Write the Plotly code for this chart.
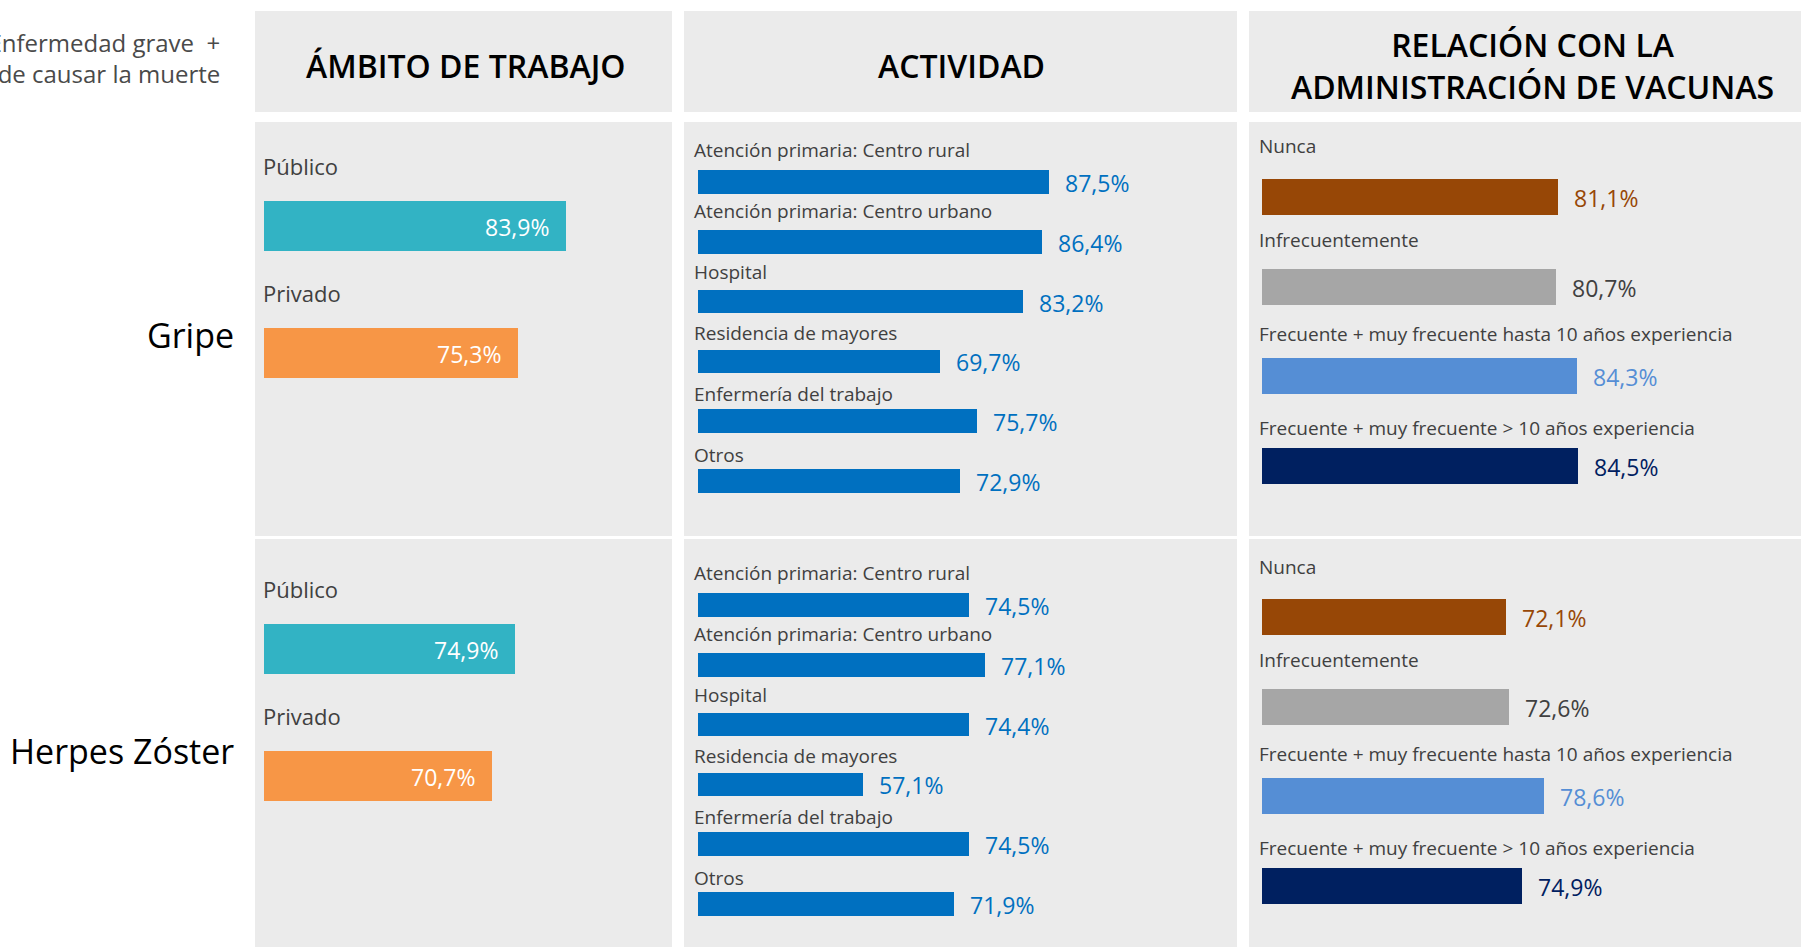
import plotly.graph_objects as go

# ---------------- data ----------------
enfermedades = ["Gripe", "Herpes Zóster"]
column_titles = ["ÁMBITO DE TRABAJO", "ACTIVIDAD", "RELACIÓN CON LA<br>ADMINISTRACIÓN DE VACUNAS"]
side_note = "Enfermedad grave  +<br>Puede causar la muerte"

ambito_cats = ["Público", "Privado"]
ambito_gripe = [83.9, 75.3]
ambito_herpes = [74.9, 70.7]

actividad_cats = ["Atención primaria: Centro rural", "Atención primaria: Centro urbano", "Hospital",
                  "Residencia de mayores", "Enfermería del trabajo", "Otros"]
actividad_gripe = [87.5, 86.4, 83.2, 69.7, 75.7, 72.9]
actividad_herpes = [74.5, 77.1, 74.4, 57.1, 74.5, 71.9]

relacion_cats = ["Nunca", "Infrecuentemente",
                 "Frecuente + muy frecuente hasta 10 años experiencia",
                 "Frecuente + muy frecuente > 10 años experiencia"]
relacion_gripe = [81.1, 80.7, 84.3, 84.5]
relacion_herpes = [72.1, 72.6, 78.6, 74.9]

# ---------------- styles ----------------
W, H = 1801, 947
FONT = "Open Sans"
PANEL = "#EBEBEB"
LABEL = "#404040"

ambito_colors = ["#32B3C4", "#F79646"]
ambito_text = ["#FFFFFF", "#FFFFFF"]
actividad_colors = ["#0070C0"] * 6
actividad_text = ["#0070C0"] * 6
relacion_colors = ["#974706", "#A6A6A6", "#558ED5", "#002060"]
relacion_text = ["#974706", "#404040", "#558ED5", "#002060"]

header_px = (11, 112)
rows_px = [(122, 536), (539, 947)]
col_panels = [(255, 672), (684, 1237), (1249, 1812)]

cols = [
    dict(cats=ambito_cats, vals=[ambito_gripe, ambito_herpes], colors=ambito_colors, tcol=ambito_text,
         axis=(264, 664), scale=5.6, start=30, c0=[226, 649], sp=127, bw=0.394,
         lab_size=22, lab_shift=(60, 0), lab_dx=-3, val_inside=True),
    dict(cats=actividad_cats, vals=[actividad_gripe, actividad_herpes], colors=actividad_colors, tcol=actividad_text,
         axis=(698, 1230), scale=6.1, start=30, c0=[182, 605], sp=59.8, bw=0.395,
         lab_size=19, lab_shift=(32, -1.25), lab_dx=-6, val_inside=False),
    dict(cats=relacion_cats, vals=[relacion_gripe, relacion_herpes], colors=relacion_colors, tcol=relacion_text,
         axis=(1262, 1795), scale=5.8, start=30, c0=[197, 617], sp=89.7, bw=0.40,
         lab_size=19, lab_shift=(50.5, -4), lab_dx=-5, val_inside=False),
]


def fx(p):
    return p / W


def fy(p):
    return 1 - p / H


def fmt(v):
    return f"{v:.1f}".replace(".", ",") + "%"


fig = go.Figure()
shapes = []
annotations = []
layout_axes = {}

# backgrounds
for (x0, x1) in col_panels:
    shapes.append(dict(type="rect", xref="paper", yref="paper", x0=fx(x0), x1=fx(x1),
                       y0=fy(header_px[1]), y1=fy(header_px[0]), fillcolor=PANEL, line_width=0, layer="below"))
    for (r0, r1) in rows_px:
        shapes.append(dict(type="rect", xref="paper", yref="paper", x0=fx(x0), x1=fx(x1),
                           y0=fy(r1), y1=fy(r0), fillcolor=PANEL, line_width=0, layer="below"))

# headers
for (x0, x1), title, cx in zip(col_panels, column_titles, [465, 961, 1532]):
    annotations.append(dict(text=title, xref="paper", yref="paper", x=fx(cx),
                            y=fy((header_px[0] + header_px[1]) / 2 + 4),
                            xanchor="center", yanchor="middle", showarrow=False,
                            font=dict(family=FONT, size=32, color="#000000", weight=600)))

# row titles
for name, cy in zip(enfermedades, [335, 751]):
    annotations.append(dict(text=name, xref="paper", yref="paper", x=fx(236), y=fy(cy),
                            xanchor="right", yanchor="middle", showarrow=False,
                            font=dict(family=FONT, size=34, color="#000000")))

# side note (clipped on the left like the reference)
annotations.append(dict(text=side_note, xref="paper", yref="paper", x=fx(222), y=fy(58),
                        xanchor="right", yanchor="middle", align="right", showarrow=False,
                        font=dict(family=FONT, size=24, color="#4A4A4A")))

k = 0
for ci, col in enumerate(cols):
    for ri, (r0, r1) in enumerate(rows_px):
        k += 1
        xa = "xaxis" if k == 1 else f"xaxis{k}"
        ya = "yaxis" if k == 1 else f"yaxis{k}"
        xr = "x" if k == 1 else f"x{k}"
        yr = "y" if k == 1 else f"y{k}"
        a0, a1 = col["axis"]
        rng = [col["start"], col["start"] + (a1 - a0) / col["scale"]]
        c0 = col["c0"][ri]
        sp = col["sp"]
        yrng = [(r1 - c0) / sp, (r0 - c0) / sp]
        layout_axes[xa] = dict(domain=[fx(a0), fx(a1)], range=rng, visible=False, fixedrange=True,
                               anchor=yr)
        layout_axes[ya] = dict(domain=[fy(r1), fy(r0)], range=yrng, visible=False, fixedrange=True,
                               anchor=xr, type="category", categoryorder="array",
                               categoryarray=col["cats"])
        vals = col["vals"][ri]
        fig.add_trace(go.Bar(x=vals, y=col["cats"], orientation="h", xaxis=xr, yaxis=yr,
                             marker=dict(color=col["colors"], line_width=0), width=col["bw"],
                             hoverinfo="skip", showlegend=False))
        base, step = col["lab_shift"]
        for i, (cat, v) in enumerate(zip(col["cats"], vals)):
            annotations.append(dict(text=cat, xref=xr, yref=yr, x=col["start"], y=cat,
                                    xanchor="left", yanchor="middle", xshift=col["lab_dx"],
                                    yshift=base + step * i, showarrow=False,
                                    font=dict(family=FONT, size=col["lab_size"], color=LABEL)))
            if col["val_inside"]:
                annotations.append(dict(text=fmt(v), xref=xr, yref=yr, x=v, y=cat,
                                        xanchor="right", yanchor="middle", xshift=-15, yshift=-1,
                                        showarrow=False,
                                        font=dict(family=FONT, size=23, color=col["tcol"][i])))
            else:
                annotations.append(dict(text=fmt(v), xref=xr, yref=yr, x=v, y=cat,
                                        xanchor="left", yanchor="middle", xshift=14, yshift=-1,
                                        showarrow=False,
                                        font=dict(family=FONT, size=23, color=col["tcol"][i])))

fig.update_layout(width=W, height=H, margin=dict(l=0, r=0, t=0, b=0),
                  paper_bgcolor="#FFFFFF", plot_bgcolor="rgba(0,0,0,0)",
                  shapes=shapes, annotations=annotations, bargap=0, **layout_axes)

fig.write_html("out.html", include_plotlyjs=True, config={"displayModeBar": False},
               post_script="document.body.style.margin='0';document.body.style.overflow='hidden';")
